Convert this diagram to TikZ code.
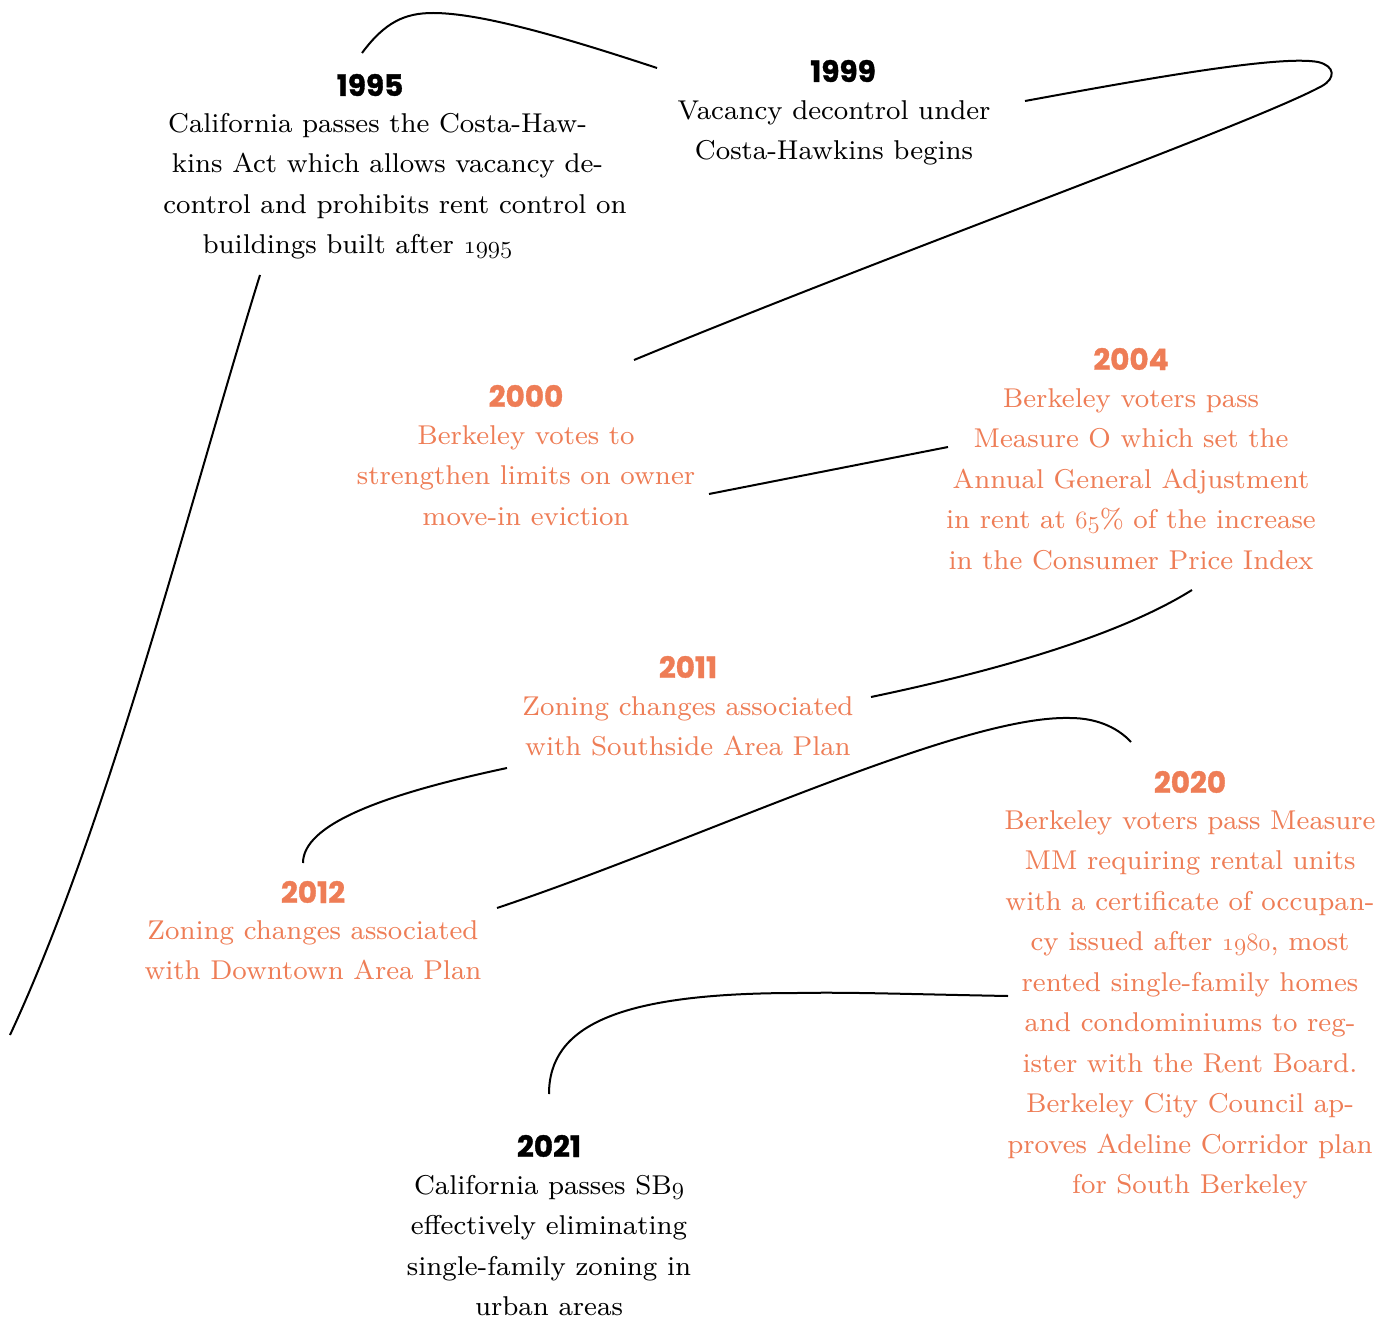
\documentclass[tikz,border=0pt]{standalone}
\usepackage{fontspec}
\newfontfamily\yearfont{Poppins}[BoldFeatures={FakeBold=1.2}]
\newfontfamily\bodyfont{lmroman8-regular.otf}
\definecolor{orng}{RGB}{238,125,86}
\newcommand\osn[1]{{\fontsize{31}{40.5}\usefont{OML}{lmm}{m}{it}#1}}
\tikzset{
  yearlbl/.style={font=\yearfont\bfseries\fontsize{29.5}{34}\selectfont, inner sep=0pt},
  bodytxt/.style={font=\bodyfont\fontsize{27.2}{40.5}\selectfont, align=center, inner sep=0pt, anchor=north},
  orangetxt/.style={text=orng},
  tline/.style={line width=2pt, draw=black}
}
\begin{document}
\begin{tikzpicture}[x=1pt,y=-1pt]
\useasboundingbox (0,0) rectangle (1387,1321);

% events
\node[yearlbl] (y1995) at (370,85) {1995};
\node[bodytxt] (b1995) at (380,113) {California passes the Costa-Haw-\hspace*{5pt}\\ \hspace*{15pt}kins Act which allows vacancy de-\\ \hspace*{30pt}control and prohibits rent control on\\ buildings built after \osn{1995}\hspace*{45pt}};

\node[yearlbl] (y1999) at (843,71) {1999};
\node[bodytxt] (b1999) at (834,100) {Vacancy decontrol under\\Costa-Hawkins begins};

\node[yearlbl,orangetxt] (y2000) at (526,396) {2000};
\node[bodytxt,orangetxt] (b2000) at (526,425) {Berkeley votes to\\strengthen limits on owner\\move-in eviction};

\node[yearlbl,orangetxt] (y2004) at (1131,359) {2004};
\node[bodytxt,orangetxt] (b2004) at (1131,388) {Berkeley voters pass\\Measure O which set the\\Annual General Adjustment\\in rent at \osn{65}\% of the increase\\in the Consumer Price Index};

\node[yearlbl,orangetxt] (y2011) at (688,667) {2011};
\node[bodytxt,orangetxt] (b2011) at (688,696) {Zoning changes associated\\with Southside Area Plan};

\node[yearlbl,orangetxt] (y2012) at (313,892) {2012};
\node[bodytxt,orangetxt] (b2012) at (313,920) {Zoning changes associated\\with Downtown Area Plan};

\node[yearlbl,orangetxt] (y2020) at (1190,782) {2020};
\node[bodytxt,orangetxt] (b2020) at (1190,810) {Berkeley voters pass Measure\\MM requiring rental units\\with a certificate of occupan-\\cy issued after \osn{1980}, most\\rented single-family homes\\and condominiums to reg-\\ister with the Rent Board.\\Berkeley City Council ap-\\proves Adeline Corridor plan\\for South Berkeley};

\node[yearlbl] (y2021) at (549,1146) {2021};
\node[bodytxt] (b2021) at (549,1175) {California passes SB\osn{9}\\effectively eliminating\\single-family zoning in\\urban areas};

% connector end points
\coordinate (p0) at (10,1035);
\coordinate (p1) at (260,275);
\coordinate (p2) at (362,53);
\coordinate (p3) at (657,68);
\coordinate (p4) at (1025,101);
\coordinate (p5) at (634,360);
\coordinate (p6) at (709,494);
\coordinate (p7) at (948,447);
\coordinate (p8) at (1192,590);
\coordinate (p9) at (871,697);
\coordinate (p10) at (507,768);
\coordinate (p11) at (303,863);
\coordinate (p12) at (497,908);
\coordinate (p13) at (1131,742);
\coordinate (p14) at (1008,996);
\coordinate (p15) at (549,1094);

% connectors
\draw[tline] (p1) .. controls (190,500) and (110,820) .. (p0);
\draw[tline] (p2) .. controls (385,22) and (405,13) .. (433,13) .. controls (480,13) and (560,36) .. (p3);
\draw[tline] (p4) .. controls (1150,78) and (1280,55) .. (1318,62) .. controls (1335,66) and (1336,78) .. (1322,86) .. controls (1250,125) and (900,250) .. (p5);
\draw[tline] (p6) -- (p7);
\draw[tline] (p8) .. controls (1120,635) and (1000,670) .. (p9);
\draw[tline] (p10) .. controls (380,795) and (303,825) .. (p11);
\draw[tline] (p12) .. controls (700,840) and (960,715) .. (1070,718) .. controls (1100,718) and (1120,730) .. (p13);
\draw[tline] (p14) .. controls (900,994) and (850,992) .. (797,993) .. controls (620,993) and (549,1025) .. (p15);
\end{tikzpicture}
\end{document}
